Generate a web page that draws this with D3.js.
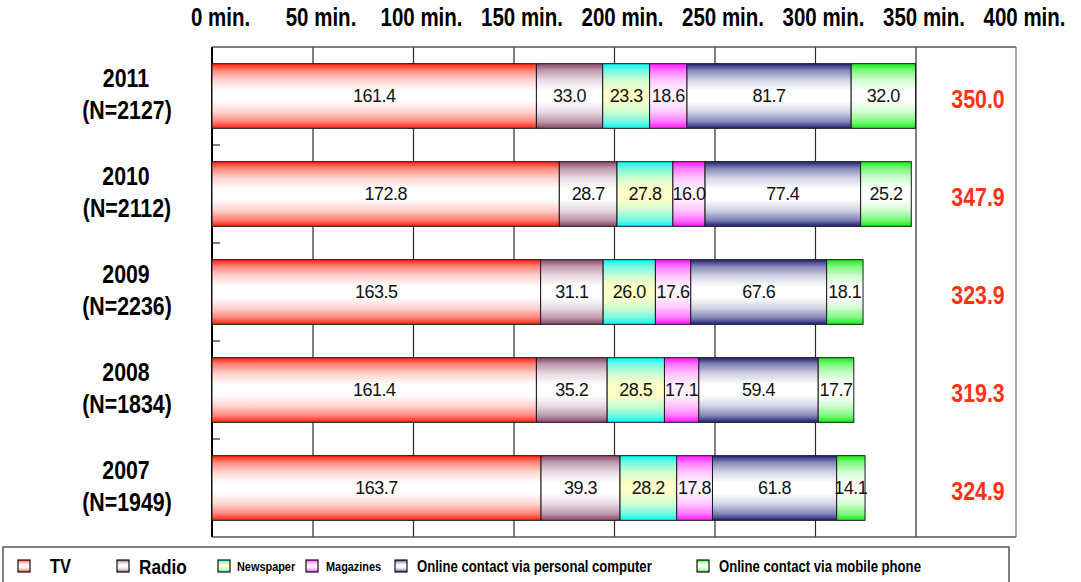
<!DOCTYPE html>
<html>
<head>
<meta charset="utf-8">
<script src="https://cdn.jsdelivr.net/npm/d3@7"></script>
<style>
  html, body { margin: 0; padding: 0; background: #fff; }
  svg { display: block; }
  .bold { font-family: "Liberation Sans", Arial, sans-serif; font-weight: bold; }
  .val { font-family: "Liberation Sans", Arial, sans-serif; font-size: 18px; fill: #111; }
</style>
</head>
<body>
<svg id="chart" width="1081" height="582"></svg>
<script>
// Daily media contact time (minutes), by survey year
const categories = ["2011", "2010", "2009", "2008", "2007"];
const sampleSizes = [2127, 2112, 2236, 1834, 1949];
const seriesNames = [
  "TV", "Radio", "Newspaper", "Magazines",
  "Online contact via personal computer", "Online contact via mobile phone"
];
const tv           = [161.4, 172.8, 163.5, 161.4, 163.7];
const radio        = [33.0, 28.7, 31.1, 35.2, 39.3];
const newspaper    = [23.3, 27.8, 26.0, 28.5, 28.2];
const magazines    = [18.6, 16.0, 17.6, 17.1, 17.8];
const onlinePC     = [81.7, 77.4, 67.6, 59.4, 61.8];
const onlineMobile = [32.0, 25.2, 18.1, 17.7, 14.1];
const tickValues   = [0, 50, 100, 150, 200, 250, 300, 350, 400];
const tickLabels   = ["0 min.", "50 min.", "100 min.", "150 min.", "200 min.",
                      "250 min.", "300 min.", "350 min.", "400 min."];

const seriesValues = [tv, radio, newspaper, magazines, onlinePC, onlineMobile];

// gradient colours: edge colour at top/bottom, light colour through the middle
const palette = [
  { edge: "#ff1e0a", mid: "#ffffff" },
  { edge: "#874468", mid: "#ffffff" },
  { edge: "#00f4f4", mid: "#ffffc8" },
  { edge: "#ff10ff", mid: "#fff2ff" },
  { edge: "#1c1f78", mid: "#ffffff" },
  { edge: "#10ee10", mid: "#ffffff" }
];

const rows = categories.map((c, i) => {
  const r = { year: c, n: sampleSizes[i] };
  seriesNames.forEach((s, j) => { r[s] = seriesValues[j][i]; });
  return r;
});

// condensed look for the bold labels: squeeze each text horizontally
const NARROW = 0.82;
function narrow(sel) {
  sel.each(function () {
    const w = this.getComputedTextLength();
    if (w > 0) {
      d3.select(this).attr("textLength", w * NARROW).attr("lengthAdjust", "spacingAndGlyphs");
    }
  });
}

const svg = d3.select("#chart");
const plot = { left: 212, right: 1016, top: 47, bottom: 537 };

const x = d3.scaleLinear().domain([0, 400]).range([plot.left, plot.right]);
const y = d3.scaleBand().domain(categories).range([plot.top, plot.bottom])
  .paddingInner(0.34).paddingOuter(0.17);

// gradients
const defs = svg.append("defs");
palette.forEach((p, i) => {
  const g = defs.append("linearGradient").attr("id", "grad" + i)
    .attr("x1", 0).attr("y1", 0).attr("x2", 0).attr("y2", 1);
  const mix = d3.interpolateRgb(p.edge, p.mid);
  [[0, 0], [0.1, 0.45], [0.25, 0.8], [0.42, 1], [0.58, 1], [0.75, 0.8], [0.9, 0.45], [1, 0]]
    .forEach(([o, t]) => g.append("stop").attr("offset", o).attr("stop-color", mix(t)));
});

// vertical gridlines
svg.append("g")
  .attr("transform", `translate(0,${plot.top})`)
  .call(d3.axisBottom(x).tickValues(tickValues.slice(1, -1)).tickSize(plot.bottom - plot.top).tickFormat(""))
  .call(g => g.select(".domain").remove())
  .call(g => g.selectAll(".tick line").attr("stroke", "#2a2a2a").attr("stroke-width", 1.2));

// plot frame
svg.append("line").attr("x1", plot.left).attr("x2", plot.right).attr("y1", plot.top).attr("y2", plot.top)
  .attr("stroke", "#555").attr("stroke-width", 1.5);
svg.append("line").attr("x1", plot.left).attr("x2", plot.right).attr("y1", plot.bottom).attr("y2", plot.bottom)
  .attr("stroke", "#555").attr("stroke-width", 1.5);
svg.append("line").attr("x1", plot.right).attr("x2", plot.right).attr("y1", plot.top).attr("y2", plot.bottom)
  .attr("stroke", "#888").attr("stroke-width", 1.5);
svg.append("line").attr("x1", plot.left).attr("x2", plot.left).attr("y1", plot.top).attr("y2", plot.bottom)
  .attr("stroke", "#000").attr("stroke-width", 2);

// small category-boundary ticks on the left axis
const step = y.step();
svg.append("g").selectAll("line")
  .data(categories.slice(1))
  .join("line")
  .attr("x1", plot.left).attr("x2", plot.left + 8)
  .attr("y1", d => y(d) - step * y.paddingInner() / 2)
  .attr("y2", d => y(d) - step * y.paddingInner() / 2)
  .attr("stroke", "#000").attr("stroke-width", 1);

// top axis labels
svg.append("g")
  .attr("transform", `translate(8,${plot.top})`)
  .call(d3.axisTop(x).tickValues(tickValues).tickSize(0).tickPadding(21)
    .tickFormat((d, i) => tickLabels[i]))
  .call(g => g.select(".domain").remove())
  .call(g => g.selectAll("text").attr("class", "bold").attr("font-size", 25).attr("fill", "#000").call(narrow));

// stacked bars
const stack = d3.stack().keys(seriesNames);
const layers = stack(rows);

const layerG = svg.append("g").selectAll("g")
  .data(layers)
  .join("g")
  .attr("fill", (d, i) => `url(#grad${i})`);

layerG.selectAll("rect")
  .data(d => d)
  .join("rect")
  .attr("x", d => x(d[0]))
  .attr("width", d => x(d[1]) - x(d[0]))
  .attr("y", d => y(d.data.year))
  .attr("height", y.bandwidth())
  .attr("stroke", "#1a1a1a")
  .attr("stroke-width", 1);

// segment value labels
svg.append("g").selectAll("g")
  .data(layers)
  .join("g")
  .selectAll("text")
  .data(d => d.map(p => ({ p, v: p[1] - p[0] })))
  .join("text")
  .attr("class", "val")
  .attr("x", d => (x(d.p[0]) + x(d.p[1])) / 2)
  .attr("y", d => y(d.p.data.year) + y.bandwidth() / 2)
  .attr("dy", "0.36em")
  .attr("text-anchor", "middle")
  .style("letter-spacing", "-0.5px")
  .text(d => d3.format(".1f")(d.v));

// category labels (two lines)
const catG = svg.append("g");
catG.selectAll("text.year")
  .data(rows)
  .join("text")
  .attr("class", "bold year")
  .attr("font-size", 26)
  .attr("text-anchor", "middle")
  .attr("x", 126)
  .attr("y", d => y(d.year) + y.bandwidth() / 2 - 9.5)
  .text(d => d.year)
  .call(narrow);
catG.selectAll("text.count")
  .data(rows)
  .join("text")
  .attr("class", "bold count")
  .attr("font-size", 26)
  .attr("text-anchor", "middle")
  .attr("x", 127)
  .attr("y", d => y(d.year) + y.bandwidth() / 2 + 22.5)
  .text(d => `(N=${d.n})`)
  .call(narrow);

// totals
svg.append("g").selectAll("text")
  .data(rows)
  .join("text")
  .attr("class", "bold")
  .attr("font-size", 26)
  .attr("text-anchor", "middle")
  .attr("fill", "#ff3214")
  .attr("x", 978)
  .attr("y", d => y(d.year) + y.bandwidth() / 2 + 11.5)
  .text(d => d3.format(".1f")(d3.sum(seriesNames, s => d[s])))
  .call(narrow);

// legend
const legend = svg.append("g");
legend.append("rect")
  .attr("x", 3).attr("y", 547).attr("width", 1006).attr("height", 45)
  .attr("fill", "#fff").attr("stroke", "#555").attr("stroke-width", 1.5);

const legendLayout = [
  { sx: 18, tx: 50, size: 20 },
  { sx: 117, tx: 139, size: 21 },
  { sx: 218, tx: 237, size: 13.3 },
  { sx: 306, tx: 326, size: 13.3 },
  { sx: 395, tx: 417, size: 16 },
  { sx: 697, tx: 719, size: 16 }
];
const legendY = 566;
const li = legend.selectAll("g.item")
  .data(seriesNames)
  .join("g").attr("class", "item");
li.append("rect")
  .attr("x", (d, i) => legendLayout[i].sx)
  .attr("y", legendY - 6)
  .attr("width", 12).attr("height", 12)
  .attr("fill", (d, i) => `url(#grad${i})`)
  .attr("stroke", "#111").attr("stroke-width", 1.2);
li.append("text")
  .attr("class", "bold")
  .attr("x", (d, i) => legendLayout[i].tx)
  .attr("y", legendY)
  .attr("dy", "0.36em")
  .attr("font-size", (d, i) => legendLayout[i].size)
  .attr("fill", "#000")
  .text(d => d)
  .call(narrow);
</script>
</body>
</html>
